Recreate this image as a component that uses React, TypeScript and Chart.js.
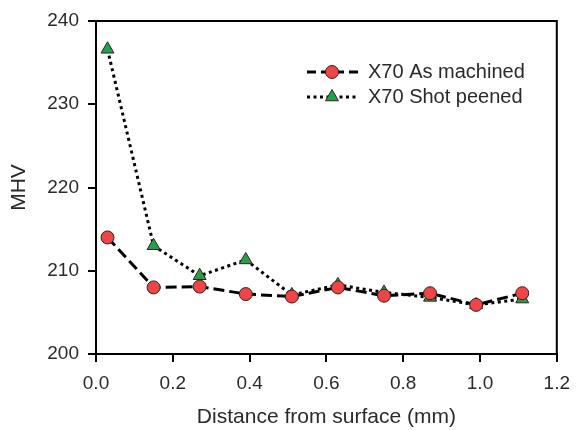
import React, { useEffect, useRef } from "react";
import { Chart, registerables } from "chart.js";

Chart.register(...registerables);

const distances = [0.03, 0.15, 0.27, 0.39, 0.51, 0.63, 0.75, 0.87, 0.99, 1.11];
const asMachined = [214.0, 208.0, 208.1, 207.2, 206.9, 208.0, 207.0, 207.3, 205.9, 207.3];
const shotPeened = [236.6, 213.0, 209.4, 211.3, 207.1, 208.3, 207.4, 206.8, 205.9, 206.6];
const seriesNames = ["X70 As machined", "X70 Shot peened"];
const xTitle = "Distance from surface (mm)";
const yTitle = "MHV";

const FONT = "'Liberation Sans', Arial, sans-serif";
const RED = "#ee4646";
const GREEN = "#1fa24a";
const EDGE = "#3a2020";
const TEXT = "#2a2a2a";
const DASH = [11, 5];
const DOT = [3, 3.5];

const frameAndLegend = {
  id: "frameAndLegend",
  afterDraw(chart: any) {
    const { ctx, chartArea } = chart;
    ctx.save();
    ctx.strokeStyle = "#000";
    ctx.lineWidth = 2;
    ctx.beginPath();
    ctx.moveTo(chartArea.left, chartArea.top);
    ctx.lineTo(chartArea.right, chartArea.top);
    ctx.lineTo(chartArea.right, chartArea.bottom);
    ctx.stroke();

    const rows = [72, 97];
    chart.data.datasets.forEach((ds: any, i: number) => {
      const y = rows[i];
      const x0 = 307, x1 = 358, xm = 332;
      ctx.save();
      ctx.strokeStyle = "#000";
      ctx.lineWidth = ds.borderWidth;
      ctx.setLineDash(i === 0 ? [9, 5] : DOT);
      ctx.beginPath();
      ctx.moveTo(x0, y);
      ctx.lineTo(x1, y);
      ctx.stroke();
      ctx.restore();
      ctx.fillStyle = ds.pointBackgroundColor;
      ctx.strokeStyle = EDGE;
      ctx.lineWidth = 1;
      ctx.beginPath();
      if (i === 0) {
        ctx.arc(xm, y, 6.5, 0, Math.PI * 2);
      } else {
        const r = 7.5;
        ctx.moveTo(xm, y - r);
        ctx.lineTo(xm + r * Math.sin((2 * Math.PI) / 3), y - r * Math.cos((2 * Math.PI) / 3));
        ctx.lineTo(xm + r * Math.sin((4 * Math.PI) / 3), y - r * Math.cos((4 * Math.PI) / 3));
        ctx.closePath();
      }
      ctx.fill();
      ctx.stroke();
      ctx.fillStyle = TEXT;
      ctx.font = `20px ${FONT}`;
      ctx.textAlign = "left";
      ctx.textBaseline = "middle";
      ctx.fillText(ds.label, 368, y);
    });
    ctx.restore();
  },
};

export default function App() {
  const ref = useRef<HTMLCanvasElement>(null);
  useEffect(() => {
    if (!ref.current) return;
    const chart = new Chart(ref.current, {
      type: "line",
      data: {
        datasets: [
          {
            label: seriesNames[0],
            data: distances.map((x, i) => ({ x, y: asMachined[i] })),
            borderColor: "#000",
            borderWidth: 3,
            borderDash: DASH,
            pointStyle: "circle",
            pointRadius: 6.5,
            pointBackgroundColor: RED,
            pointBorderColor: EDGE,
            pointBorderWidth: 1,
            tension: 0,
            fill: false,
          },
          {
            label: seriesNames[1],
            data: distances.map((x, i) => ({ x, y: shotPeened[i] })),
            borderColor: "#000",
            borderWidth: 3,
            borderDash: DOT,
            pointStyle: "triangle",
            pointRadius: 7.5,
            pointBackgroundColor: GREEN,
            pointBorderColor: EDGE,
            pointBorderWidth: 1,
            tension: 0,
            fill: false,
          },
        ],
      },
      options: {
        animation: false,
        responsive: true,
        maintainAspectRatio: false,
        layout: { padding: { left: 0, right: 20, top: 21, bottom: 0 } },
        plugins: { legend: { display: false }, tooltip: { enabled: false } },
        scales: {
          x: {
            type: "linear",
            min: 0,
            max: 1.2,
            ticks: {
              stepSize: 0.2,
              color: TEXT,
              font: { family: FONT, size: 19 },
              padding: 10,
              maxRotation: 0,
              callback: (v: any) => Number(v).toFixed(1),
            },
            grid: { drawOnChartArea: false, drawTicks: true, tickLength: 8, color: "#000", lineWidth: 2 },
            border: { color: "#000", width: 2 },
            title: {
              display: true,
              text: xTitle,
              color: TEXT,
              font: { family: FONT, size: 21 },
              padding: { top: 0, bottom: 0 },
            },
            afterFit: (s: any) => {
              s.height = 76;
            },
          },
          y: {
            min: 200,
            max: 240,
            ticks: {
              stepSize: 10,
              color: TEXT,
              font: { family: FONT, size: 19 },
              padding: 9,
            },
            grid: { drawOnChartArea: false, drawTicks: true, tickLength: 8, color: "#000", lineWidth: 2 },
            border: { color: "#000", width: 2 },
            title: {
              display: true,
              text: yTitle,
              color: TEXT,
              font: { family: FONT, size: 21 },
              padding: { top: 7, bottom: 0 },
            },
            afterFit: (s: any) => {
              s.width = 96;
            },
          },
        },
      },
      plugins: [frameAndLegend],
    });
    return () => chart.destroy();
  }, []);
  return (
    <div style={{ position: "fixed", left: 0, top: 0, width: 580, height: 430, background: "#fff" }}>
      <canvas ref={ref} />
    </div>
  );
}
